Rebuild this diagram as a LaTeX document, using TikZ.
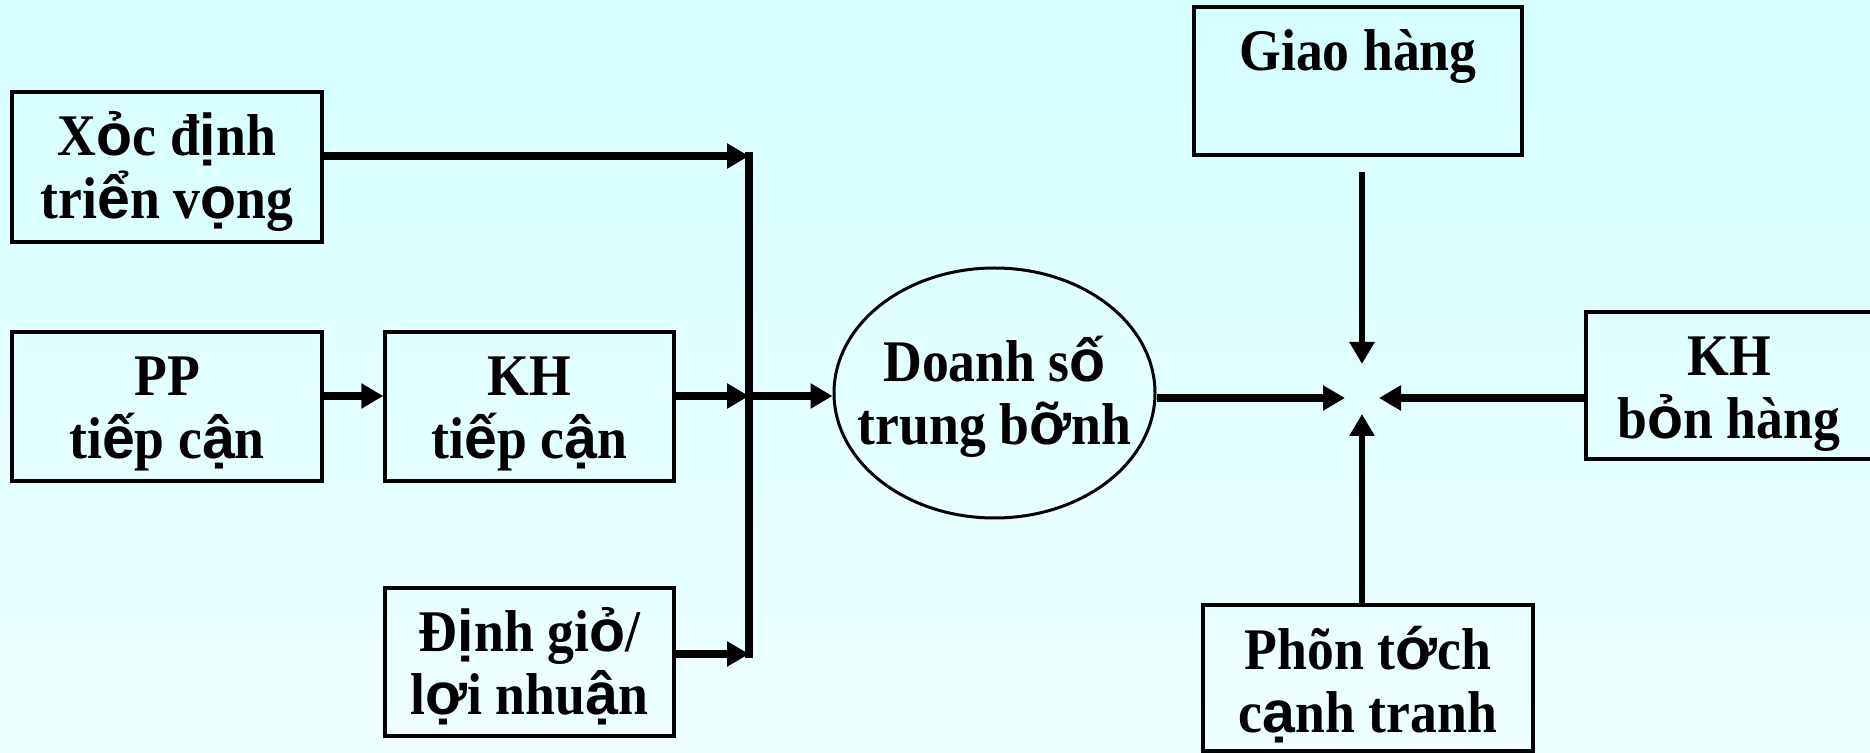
\documentclass[tikz,border=0pt]{standalone}
\usepackage{fontspec}
\setmainfont{Liberation Serif}[FakeStretch=0.91]
\newfontfamily\vsansfont{Liberation Sans}
\newcommand\vs[1]{{\vsansfont\bfseries #1}}
\newcommand\twol[2]{\makebox[0pt]{\vtop{\lineskiplimit=-\maxdimen\halign{\hfil##\hfil\cr#1\cr#2\cr}}}}
\usetikzlibrary{arrows.meta,shapes.geometric,calc}
\definecolor{bgtop}{RGB}{213,255,255}
\definecolor{bgbot}{RGB}{238,255,255}
\begin{document}
\begin{tikzpicture}[x=0.5pt,y=-0.5pt,
  every node/.style={font=\fontsize{29.5}{31.5}\selectfont\bfseries},
  box/.style={draw, line width=1.75pt, rectangle, inner sep=0pt, text height=32pt},
  conn/.style={line width=4pt, -{Triangle[length=11pt,width=12pt]}},
  vconn/.style={line width=3.2pt, -{Triangle[length=11pt,width=12pt]}},
  bus/.style={line width=4pt}
]
\useasboundingbox (0,0) rectangle (1870,753);
\shade[top color=bgtop,bottom color=bgbot] (0,0) rectangle (1870,753);
\clip (0,0) rectangle (1870,753);

\node[box, minimum width=155pt, minimum height=75pt, text depth=43pt] (xoc) at (167,167) {\twol{X\vs{ỏ}c đ\vs{ị}nh}{tri\vs{ể}n v\vs{ọ}ng}};
\node[box, minimum width=155pt, minimum height=74.5pt, text depth=42.5pt] (pp) at (167,406.5) {\twol{PP}{ti\vs{ế}p c\vs{ậ}n}};
\node[box, minimum width=144.5pt, minimum height=74.5pt, text depth=42.5pt] (kh1) at (529.5,406.5) {\twol{KH}{ti\vs{ế}p c\vs{ậ}n}};
\node[box, minimum width=144.5pt, minimum height=74pt, text depth=42pt] (dinh) at (529.5,662) {\twol{Đ\vs{ị}nh gi\vs{ỏ}/}{l\vs{ợ}i nhu\vs{ậ}n}};
\node[draw, ellipse, line width=1.5pt, inner sep=0pt, minimum width=160.5pt, minimum height=125pt, text height=20pt, text depth=31pt] (ds) at (994.5,393) {\twol{Doanh s\vs{ố}}{trung b\vs{ỡ}nh}};
\node[box, minimum width=164pt, minimum height=74pt, text depth=42pt] (giao) at (1358,81) {\twol{Giao hàng}{}};
\node[box, minimum width=143pt, minimum height=73.5pt, text depth=41.5pt] (khb) at (1729,385.5) {\twol{KH}{b\vs{ỏ}n hàng}};
\node[box, minimum width=165pt, minimum height=73pt, text depth=41pt] (phan) at (1368,678) {\twol{Phõn t\vs{ớ}ch}{c\vs{ạ}nh tranh}};

\coordinate (bt) at (749,156);
\coordinate (bm) at (749,396);
\coordinate (bb) at (749,654);
\coordinate (c) at (1362,398);

\draw[bus] ($(bt)+(0,-4)$) -- ($(bb)+(0,4)$);
\draw[conn] (xoc.east |- bt) -- (bt);
\draw[conn] (pp.east |- bm) -- (kh1.west |- bm);
\draw[conn] (kh1.east |- bm) -- (bm);
\draw[conn] (bm) -- (ds.west |- bm);
\draw[conn] (dinh.east |- bb) -- (bb);

\draw[conn] (ds.east |- c) -- ($(c)+(-17,0)$);
\draw[conn] (khb.west |- c) -- ($(c)+(17,0)$);
\draw[vconn] ($(giao.south -| c)+(0,15)$) -- ($(c)+(0,-34)$);
\draw[vconn] (phan.north -| c) -- ($(c)+(0,16)$);
\end{tikzpicture}
\end{document}
